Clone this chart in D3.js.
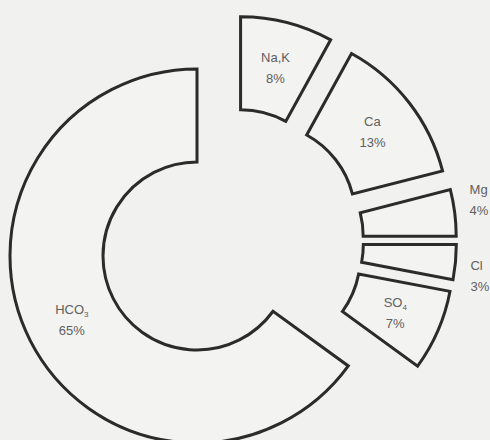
<!DOCTYPE html>
<html>
<head>
<meta charset="utf-8">
<script src="https://cdn.jsdelivr.net/npm/d3@7"></script>
<style>
  html, body { margin: 0; padding: 0; background: #f1f1ef; overflow: hidden; }
</style>
</head>
<body>
<div id="chart"></div>
<script>
// Ion shares, clockwise from 12 o'clock
const ions = ["Na,K", "Ca", "Mg", "Cl", "SO", "HCO"];
const subscripts = ["", "", "", "", "4", "3"];
const shares = [8, 13, 4, 3, 7, 65];
const placement = ["in", "in", "outUp", "outDown", "in", "in"];

const width = 490;
const height = 440;
const cx = 197, cy = 256;
const outerR = 187, innerR = 94;
const groupShift = [34, -15]; // the small ions are moved off as a block
const explode = 38.5;         // and then each pushed out along its mid angle
const main = 5;               // index of the slice that stays put

const svg = d3.select("#chart")
  .append("svg")
  .attr("width", width)
  .attr("height", height);

const pie = d3.pie().sort(null).value((d) => d);
const arcs = pie(shares);

const arc = d3.arc()
  .innerRadius(innerR)
  .outerRadius(outerR);

function offset(d, i) {
  if (i === main) return [0, 0];
  const mid = (d.startAngle + d.endAngle) / 2;
  return [
    groupShift[0] + explode * Math.sin(mid),
    groupShift[1] - explode * Math.cos(mid)
  ];
}

const slices = svg.selectAll(".slice")
  .data(arcs)
  .enter()
  .append("g")
  .attr("class", "slice")
  .attr("transform", (d, i) => {
    const o = offset(d, i);
    return `translate(${cx + o[0]},${cy + o[1]})`;
  });

slices.append("path")
  .attr("d", arc)
  .attr("fill", "#f3f3f1")
  .attr("stroke", "#2b2b2b")
  .attr("stroke-width", 3)
  .attr("stroke-linejoin", "miter");

// Labels
slices.each(function (d, i) {
  const g = d3.select(this);
  const mid = (d.startAngle + d.endAngle) / 2;
  let x, y1, anchor;
  if (placement[i] === "in") {
    const c = arc.centroid(d);
    x = c[0];
    y1 = c[1] - 10;
    anchor = "middle";
  } else {
    const r = outerR + 15;
    x = r * Math.sin(mid);
    const y = -r * Math.cos(mid);
    y1 = placement[i] === "outUp" ? y - 21 : y + 2;
    anchor = "start";
  }

  const name = g.append("text")
    .attr("x", x)
    .attr("y", y1)
    .attr("dy", "0.35em")
    .attr("text-anchor", anchor)
    .attr("font-family", "Liberation Sans, Arial, sans-serif")
    .attr("font-size", "13px")
    .attr("fill", "#606060");
  name.append("tspan").text(ions[i]);
  if (subscripts[i]) {
    name.append("tspan")
      .attr("font-size", "8px")
      .attr("dy", "3")
      .text(subscripts[i]);
  }

  g.append("text")
    .attr("x", x)
    .attr("y", y1 + 21)
    .attr("dy", "0.35em")
    .attr("text-anchor", anchor)
    .attr("font-family", "Liberation Sans, Arial, sans-serif")
    .attr("font-size", "13px")
    .attr("fill", "#606060")
    .text(shares[i] + "%");
});
</script>
</body>
</html>
